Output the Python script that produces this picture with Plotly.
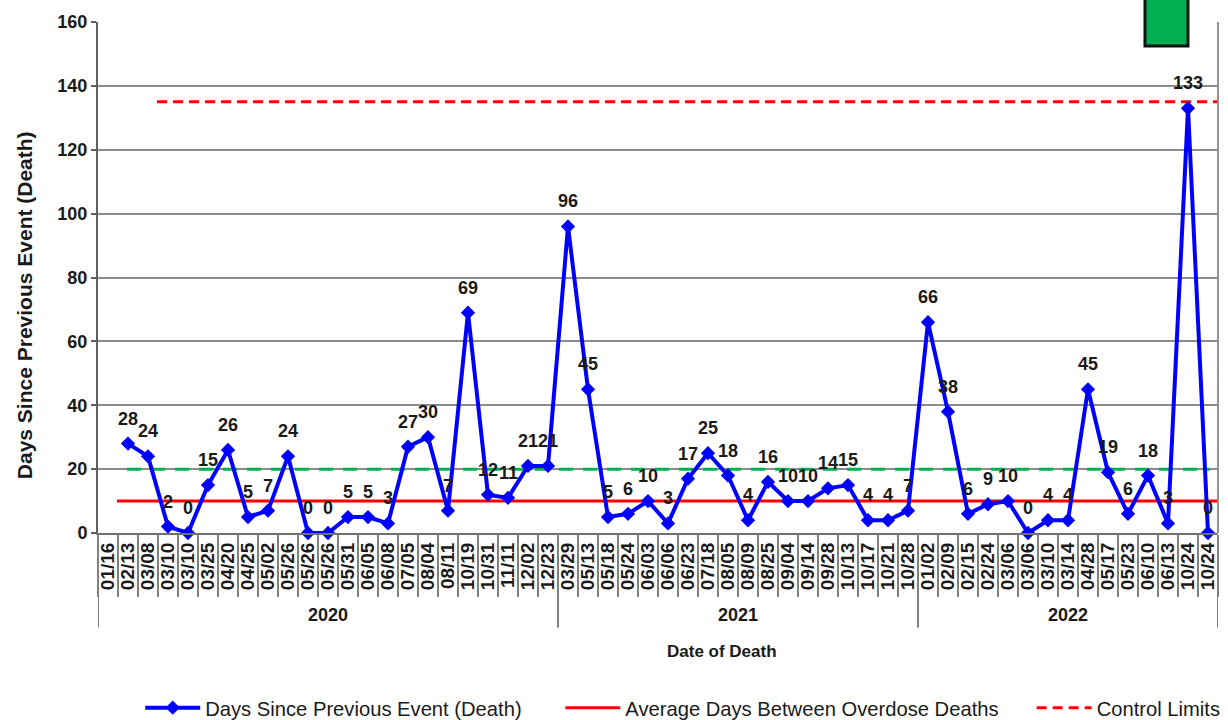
import plotly.graph_objects as go

# ---------------- data ----------------
years = ["2020", "2021", "2022"]
dates_2020 = ["01/16", "02/13", "03/08", "03/10", "03/10", "03/25", "04/20", "04/25",
              "05/02", "05/26", "05/26", "05/26", "05/31", "06/05", "06/08", "07/05",
              "08/04", "08/11", "10/19", "10/31", "11/11", "12/02", "12/23"]
dates_2021 = ["03/29", "05/13", "05/18", "05/24", "06/03", "06/06", "06/23", "07/18",
              "08/05", "08/09", "08/25", "09/04", "09/14", "09/28", "10/13", "10/17",
              "10/21", "10/28"]
dates_2022 = ["01/02", "02/09", "02/15", "02/24", "03/06", "03/06", "03/10", "03/14",
              "04/28", "05/17", "05/23", "06/10", "06/13", "10/24", "10/24"]
days_2020 = [None, 28, 24, 2, 0, 15, 26, 5, 7, 24, 0, 0, 5, 5, 3, 27, 30, 7, 69, 12, 11, 21, 21]
days_2021 = [96, 45, 5, 6, 10, 3, 17, 25, 18, 4, 16, 10, 10, 14, 15, 4, 4, 7]
days_2022 = [66, 38, 6, 9, 10, 0, 4, 4, 45, 19, 6, 18, 3, 133, 0]
average_days = 10
green_reference = 20
control_limit = 135

# ---------------- derived ----------------
dates = dates_2020 + dates_2021 + dates_2022
days = days_2020 + days_2021 + days_2022
xs = list(range(len(dates)))
n = len(dates)
year_counts = [len(dates_2020), len(dates_2021), len(dates_2022)]

FONT = "Liberation Sans, Arial, sans-serif"
TXT = "#1a1a1a"
GRID = "#8c8c8c"
PAD1 = "\u00a0" * 6  # spacing between legend entries
PAD2 = "\u00a0" * 5

fig = go.Figure()

# reference lines
fig.add_trace(go.Scatter(
    x=[0.45, n - 0.3], y=[average_days, average_days], mode="lines",
    line=dict(color="#ff0000", width=3), name="Average Days Between Overdose Deaths" + PAD2,
    showlegend=True, legendrank=2, cliponaxis=False))
fig.add_trace(go.Scatter(
    x=[0.95, n - 0.9], y=[green_reference, green_reference], mode="lines",
    line=dict(color="#00b050", width=3, dash="14px,10px"), showlegend=False,
    hoverinfo="skip", cliponaxis=False))
fig.add_trace(go.Scatter(
    x=[2.45, n - 0.3], y=[control_limit, control_limit], mode="lines",
    line=dict(color="#ff0000", width=3, dash="10px,6px"), name="Control Limits",
    legendrank=3, cliponaxis=False))

# main series
fig.add_trace(go.Scatter(
    x=xs, y=days, mode="lines+markers", connectgaps=False,
    line=dict(color="#0000ff", width=4),
    marker=dict(symbol="diamond", size=11, color="#0000ff"),
    name="Days Since Previous Event (Death)" + PAD1, legendrank=1, cliponaxis=False))

# data labels
for x, v in zip(xs, days):
    if v is None:
        continue
    fig.add_annotation(x=x, y=v, text=str(v), showarrow=False, yshift=25,
                       font=dict(family=FONT, size=18, color=TXT, weight="bold"))

# year separators & labels
bounds = [-0.5]
for c in year_counts:
    bounds.append(bounds[-1] + c)
for b in bounds:
    fig.add_shape(type="line", xref="x", yref="paper", x0=b, x1=b, y0=0, y1=-0.185,
                  line=dict(color="#808080", width=2))
for i, yr in enumerate(years):
    fig.add_annotation(x=(bounds[i] + bounds[i + 1]) / 2, y=-0.1605, xref="x", yref="paper",
                       text=yr, showarrow=False, yanchor="middle",
                       font=dict(family=FONT, size=18, color=TXT, weight="bold"))

fig.add_annotation(x=0.557, y=-0.231, xref="paper", yref="paper", text="Date of Death",
                   showarrow=False, yanchor="middle",
                   font=dict(family=FONT, size=17, color=TXT, weight="bold"))

# y axis title (placed like the reference, slightly below the plot centre)
fig.add_annotation(x=-0.066, y=0.446, xref="paper", yref="paper",
                   text="Days Since Previous Event (Death)", textangle=-90,
                   showarrow=False, xanchor="center", yanchor="middle",
                   font=dict(family=FONT, size=21, color=TXT, weight="bold"))

# right border of plot
fig.add_shape(type="line", xref="paper", yref="paper", x0=1, x1=1, y0=0, y1=1,
              line=dict(color="#909090", width=2))

# green box at top right
fig.add_shape(type="rect", xref="paper", yref="paper", x0=0.9348, x1=0.9732, y0=0.953, y1=1.06,
              line=dict(color="#111111", width=3), fillcolor="#00b050")

fig.update_layout(
    width=1228, height=720,
    margin=dict(l=98, r=10, t=22, b=187, autoexpand=False),
    paper_bgcolor="white", plot_bgcolor="white",
    font=dict(family=FONT, color=TXT),
    legend=dict(orientation="h", x=0.0377, y=-0.3425, xanchor="left", yanchor="middle",
                font=dict(family=FONT, size=20.2, color=TXT), itemwidth=55,
                traceorder="normal"),
    xaxis=dict(
        range=[-0.5, n - 0.5], tickmode="array", tickvals=xs, ticktext=dates,
        tickangle=-90, ticks="", showgrid=False, zeroline=False, automargin=False,
        showline=True, linecolor="#707070", linewidth=2,
        tickfont=dict(family=FONT, size=19, color=TXT, weight="bold"),
        minor=dict(tickmode="array", tickvals=[i - 0.5 for i in range(n + 1)],
                   ticks="outside", ticklen=62, tickwidth=2, tickcolor="#808080",
                   showgrid=False),
    ),
    yaxis=dict(
        range=[0, 160], dtick=20, showgrid=True, gridcolor=GRID, gridwidth=2,
        zeroline=False, showline=True, linecolor="#606060", linewidth=2,
        ticks="outside", ticklen=5, tickcolor="#606060", tickwidth=2, automargin=False,
        tickfont=dict(family=FONT, size=18, color=TXT, weight="bold"),
    ),
)

fig.write_html("out.html", config={"displayModeBar": False},
               post_script="document.body.style.margin='0';")
